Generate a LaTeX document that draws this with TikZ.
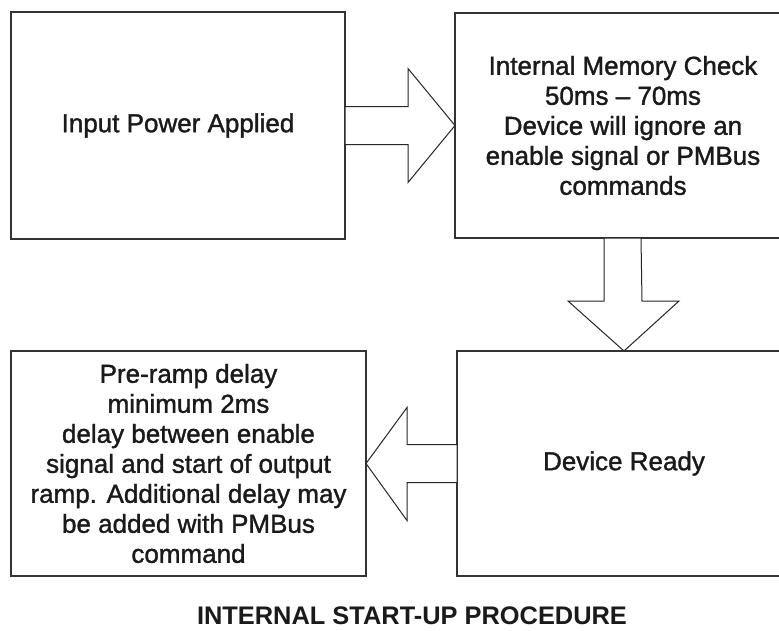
\documentclass[tikz,border=0pt]{standalone}
\usepackage{fontspec}
\setmainfont{Liberation Sans}
\newfontfamily\boxfont[FakeBold=1.3]{Liberation Sans}
\usetikzlibrary{calc}
\definecolor{boxline}{HTML}{333333}
\definecolor{txt}{HTML}{1A1A1A}
\begin{document}
\begin{tikzpicture}[x=1pt,y=-1pt,
  stagebox/.style={draw=boxline,line width=1.4pt,fill=white,inner sep=0pt,outer sep=0pt,
    align=center,text=txt,font=\boxfont\fontsize{26}{30}\selectfont},
  blockarrow/.style={draw=black!85,line width=1pt,fill=white,line join=miter}]
\useasboundingbox (0,0) rectangle (779,630);
\clip (0,0) rectangle (779,630);
\fill[white] (0,0) rectangle (779,630);
\node[stagebox,minimum width=334pt,minimum height=227pt] (A) at (178,125.5) {Input Power Applied};
\node[stagebox,minimum width=336pt,minimum height=225pt] (B) at (623,125.5)
  {Internal Memory Check\\50ms – 70ms\\Device will ignore an\\enable signal or PMBus\\commands};
\node[stagebox,minimum width=334pt,minimum height=225pt] (C) at (624,463.5) {Device Ready};
\node[stagebox,minimum width=355pt,minimum height=225pt] (D) at (188.5,463.5)
  {Pre-ramp delay\\minimum 2ms\\delay between enable\\signal and start of output\\ramp. Additional delay may\\be added with PMBus\\command};
% right block arrow A -> B
\draw[blockarrow] ($(A.east)+(0,-19)$) -- ($(B.west)+(-47,-19)$) -- ($(B.west)+(-47,-57)$)
  -- (B.west) -- ($(B.west)+(-47,57)$) -- ($(B.west)+(-47,19)$) -- ($(A.east)+(0,19)$) -- cycle;
% down block arrow B -> C
\draw[blockarrow] ($(B.south)+(-19,0)$) -- ($(C.north)+(-20,-50)$) -- ($(C.north)+(-56,-50)$)
  -- (C.north) -- ($(C.north)+(55,-50)$) -- ($(C.north)+(18,-50)$) -- ($(B.south)+(18,0)$) -- cycle;
% left block arrow C -> D
\draw[blockarrow] ($(C.west)+(0,-19)$) -- ($(D.east)+(41,-19)$) -- ($(D.east)+(41,-56)$)
  -- (D.east) -- ($(D.east)+(41,57)$) -- ($(D.east)+(41,19)$) -- ($(C.west)+(0,19)$) -- cycle;
\node[anchor=base,text=txt,font=\fontsize{25.4}{30}\selectfont\bfseries,inner sep=0pt] (title) at (412,624)
  {INTERNAL START-UP PROCEDURE};
\end{tikzpicture}
\end{document}
